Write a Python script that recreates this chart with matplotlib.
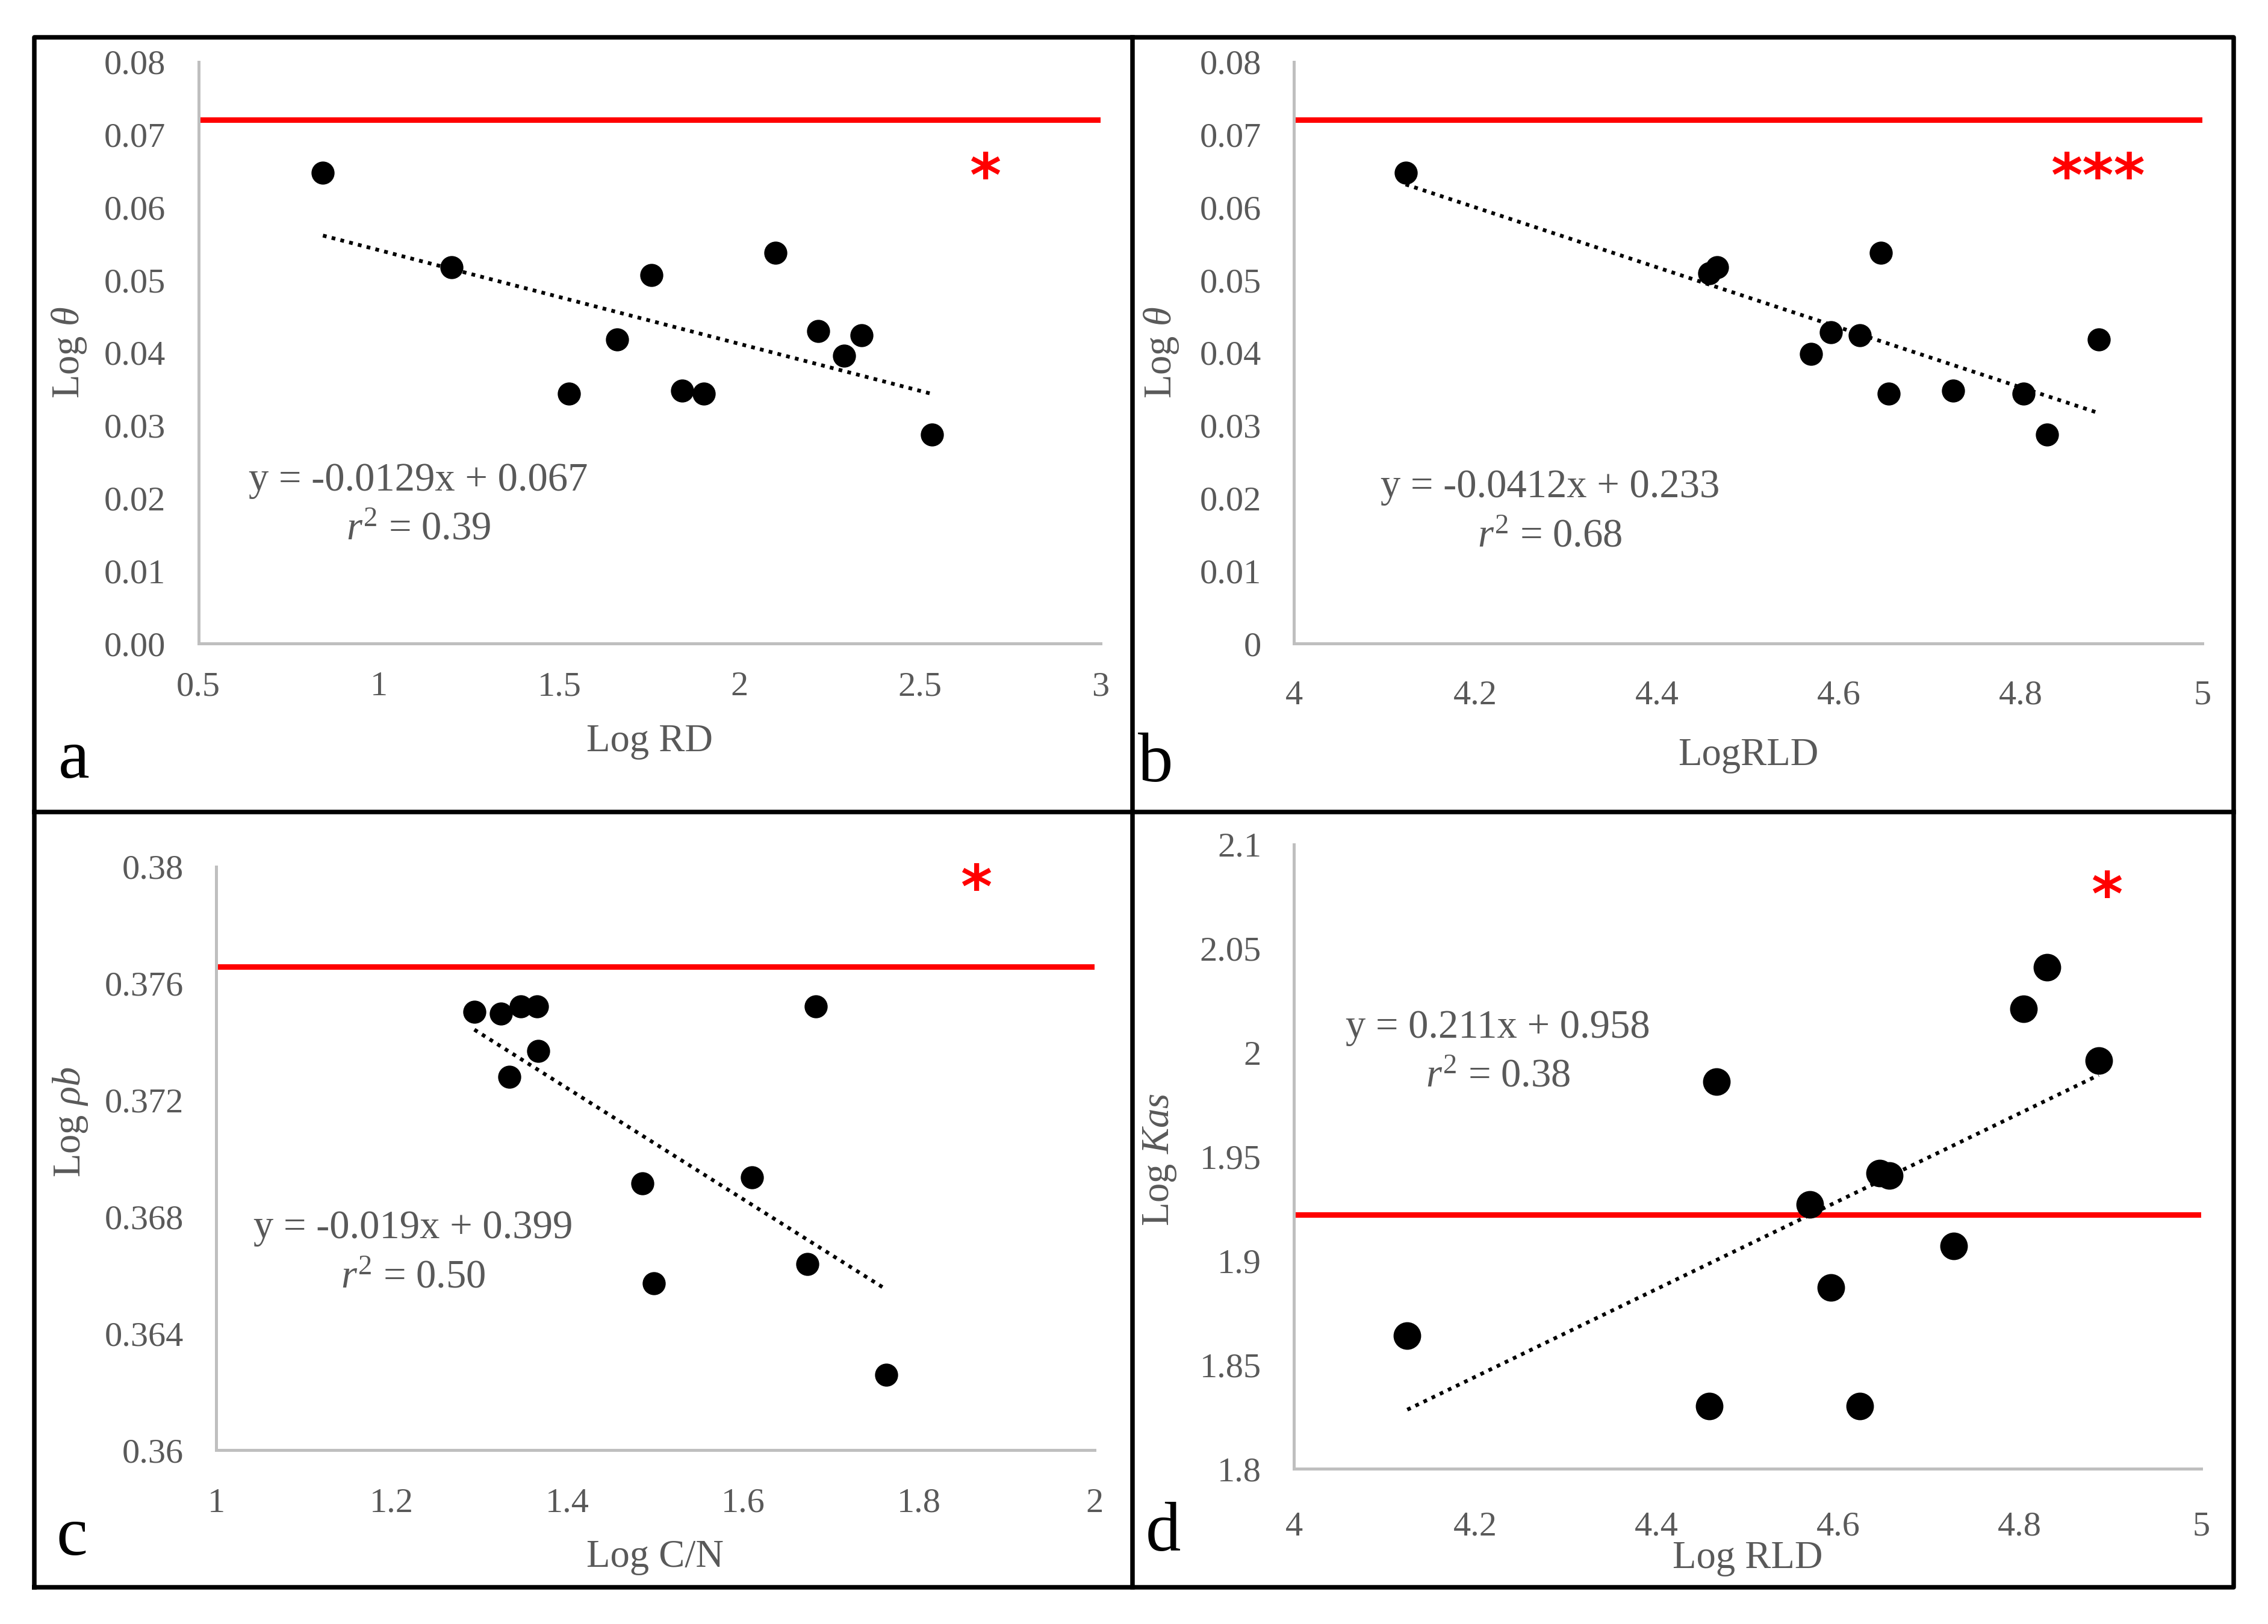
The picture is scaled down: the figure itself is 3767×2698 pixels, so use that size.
import matplotlib
matplotlib.use("Agg")
import matplotlib.pyplot as plt
from matplotlib.lines import Line2D
import numpy as np

plt.rcParams["font.family"] = ["Liberation Serif", "DejaVu Serif"]
plt.rcParams["mathtext.fontset"] = "custom"
plt.rcParams["mathtext.rm"] = "Liberation Serif"
plt.rcParams["mathtext.it"] = "Liberation Serif:italic"

GREY = "#595959"
SPINE = "#bfbfbf"

# ---- data ----
# panel a: Log RD vs Log theta
rd_x = [0.845, 1.202, 1.527, 1.66, 1.756, 1.84, 1.90, 2.10, 2.217, 2.29, 2.338, 2.534]
rd_y = [0.0647, 0.0517, 0.0344, 0.0418, 0.0507, 0.0348, 0.0344, 0.0537, 0.0430, 0.0396, 0.0424, 0.0287]

# panel b: Log RLD vs Log theta
rld_x = [4.123, 4.457, 4.466, 4.646, 4.569, 4.591, 4.623, 4.655, 4.726, 4.803, 4.829, 4.886]
rld_theta = [0.0647, 0.0509, 0.0517, 0.0537, 0.0398, 0.0428, 0.0424, 0.0344, 0.0348, 0.0344, 0.0287, 0.0418]

# panel c: Log C/N vs Log rho_b
cn_x = [1.294, 1.324, 1.347, 1.365, 1.367, 1.334, 1.485, 1.498, 1.610, 1.673, 1.683, 1.763]
cn_y = [0.37502, 0.37497, 0.37522, 0.37522, 0.37368, 0.37279, 0.36915, 0.36572, 0.36935, 0.36637, 0.37522, 0.36259]

# panel d: Log RLD vs Log Kas
kas_x = [4.125, 4.458, 4.466, 4.569, 4.592, 4.624, 4.646, 4.656, 4.727, 4.804, 4.830, 4.887]
kas_y = [1.864, 1.830, 1.986, 1.927, 1.887, 1.830, 1.942, 1.941, 1.907, 2.021, 2.041, 1.996]

# regression coefficients printed on the panels
fits = [(-0.0129, 0.067, "0.39"), (-0.0412, 0.233, "0.68"), (-0.019, 0.399, "0.50"), (0.211, 0.958, "0.38")]
thresholds = [0.072, 0.072, 0.37657, 1.922]
stars = ["*", "***", "*", "*"]

x_labels = ["Log RD", "LogRLD", "Log C/N", "Log RLD"]
y_labels = [r"Log $\it{\theta}$", r"Log $\it{\theta}$", r"Log $\it{\rho b}$", r"Log $\it{Kas}$"]
panel_letters = ["a", "b", "c", "d"]

x_ticks = [
    [0.5, 1, 1.5, 2, 2.5, 3],
    [4, 4.2, 4.4, 4.6, 4.8, 5],
    [1, 1.2, 1.4, 1.6, 1.8, 2],
    [4, 4.2, 4.4, 4.6, 4.8, 5],
]
x_tick_labels = [
    ["0.5", "1", "1.5", "2", "2.5", "3"],
    ["4", "4.2", "4.4", "4.6", "4.8", "5"],
    ["1", "1.2", "1.4", "1.6", "1.8", "2"],
    ["4", "4.2", "4.4", "4.6", "4.8", "5"],
]
y_ticks = [
    [0, 0.01, 0.02, 0.03, 0.04, 0.05, 0.06, 0.07, 0.08],
    [0, 0.01, 0.02, 0.03, 0.04, 0.05, 0.06, 0.07, 0.08],
    [0.36, 0.364, 0.368, 0.372, 0.376, 0.38],
    [1.8, 1.85, 1.9, 1.95, 2, 2.05, 2.1],
]
y_tick_labels = [
    ["0.00", "0.01", "0.02", "0.03", "0.04", "0.05", "0.06", "0.07", "0.08"],
    ["0", "0.01", "0.02", "0.03", "0.04", "0.05", "0.06", "0.07", "0.08"],
    ["0.36", "0.364", "0.368", "0.372", "0.376", "0.38"],
    ["1.8", "1.85", "1.9", "1.95", "2", "2.05", "2.1"],
]

datasets = [(rd_x, rd_y), (rld_x, rld_theta), (cn_x, cn_y), (kas_x, kas_y)]

# ---- layout ----
axes_rects = [
    [0.0875, 0.6037, 0.3977, 0.3583],
    [0.5705, 0.6037, 0.4005, 0.3583],
    [0.0953, 0.1071, 0.3873, 0.3592],
    [0.5705, 0.0956, 0.4000, 0.3844],
]
eq_pos = [(0.244, 0.238), (0.282, 0.226), (0.224, 0.338), (0.225, 0.667)]
star_pos = [(0.872, 0.797), (0.885, 0.797), (0.865, 0.958), (0.896, 0.914)]
xlabel_y = [-0.169, -0.192, -0.184, -0.144]
ylabel_xy = [(-0.143, 0.5), (-0.146, 0.5), (-0.166, 0.562), (-0.148, 0.495)]
xtick_pad = [11, 14.5, 15, 17]
marker_size = [8.2, 8.2, 8.2, 10]
letter_pos = [(0.0257, 0.521), (0.5017, 0.519), (0.0247, 0.0426), (0.505, 0.0452)]

fig = plt.figure(figsize=(3767 / 300, 2698 / 300), dpi=300)

for i in range(4):
    ax = fig.add_axes(axes_rects[i])
    xs, ys = datasets[i]
    slope, intercept, r2 = fits[i]

    ax.axhline(thresholds[i], color="#ff0000", lw=2.2, zorder=1)

    line_x = np.array([min(xs), max(xs)])
    ax.plot(line_x, slope * line_x + intercept, color="black", lw=1.5,
            linestyle=(0, (1, 1.4)), zorder=2)
    ax.plot(xs, ys, "o", color="black", markersize=marker_size[i], zorder=3)

    ax.set_xlim(x_ticks[i][0], x_ticks[i][-1])
    ax.set_ylim(y_ticks[i][0], y_ticks[i][-1])
    ax.set_xticks(x_ticks[i])
    ax.set_xticklabels(x_tick_labels[i])
    ax.set_yticks(y_ticks[i])
    ax.set_yticklabels(y_tick_labels[i])
    ax.tick_params(axis="x", length=0, pad=xtick_pad[i], labelsize=14, labelcolor=GREY)
    ax.tick_params(axis="y", length=0, pad=13, labelsize=14, labelcolor=GREY)

    for side in ["top", "right"]:
        ax.spines[side].set_visible(False)
    for side in ["left", "bottom"]:
        ax.spines[side].set_color(SPINE)
        ax.spines[side].set_linewidth(1.2)

    ax.set_xlabel(x_labels[i], fontsize=15.5, color=GREY)
    ax.xaxis.set_label_coords(0.5, xlabel_y[i])
    ax.xaxis.label.set_va("center")
    ax.set_ylabel(y_labels[i], fontsize=15.5, color=GREY)
    ax.yaxis.set_label_coords(*ylabel_xy[i])
    ax.yaxis.label.set_va("center")

    eq_sign = "-" if slope < 0 else ""
    eq = f"y = {eq_sign}{abs(slope):g}x + {intercept:g}\n" + r"$\it{r}^2$" + f" = {r2}"
    ax.text(eq_pos[i][0], eq_pos[i][1], eq, transform=ax.transAxes, ha="center",
            va="center", multialignment="center", fontsize=16, color=GREY,
            linespacing=1.45)

    ax.text(star_pos[i][0], star_pos[i][1], stars[i], transform=ax.transAxes,
            ha="center", va="center", fontsize=24, fontweight="bold", color="#ff0000",
            family="DejaVu Sans")

    fig.text(letter_pos[i][0], letter_pos[i][1], panel_letters[i], fontsize=28,
             color="black", va="baseline", ha="left")

# panel frame
left, right, bottom, top = 0.0151, 0.985, 0.0226, 0.977
midx, midy = 0.4994, 0.5
frame_kw = dict(color="black", lw=1.8, transform=fig.transFigure)
fig.add_artist(Line2D([left, right, right, left, left], [bottom, bottom, top, top, bottom], **frame_kw))
fig.add_artist(Line2D([midx, midx], [bottom, top], **frame_kw))
fig.add_artist(Line2D([left, right], [midy, midy], **frame_kw))

fig.savefig("out.png", dpi=300, facecolor="white")
